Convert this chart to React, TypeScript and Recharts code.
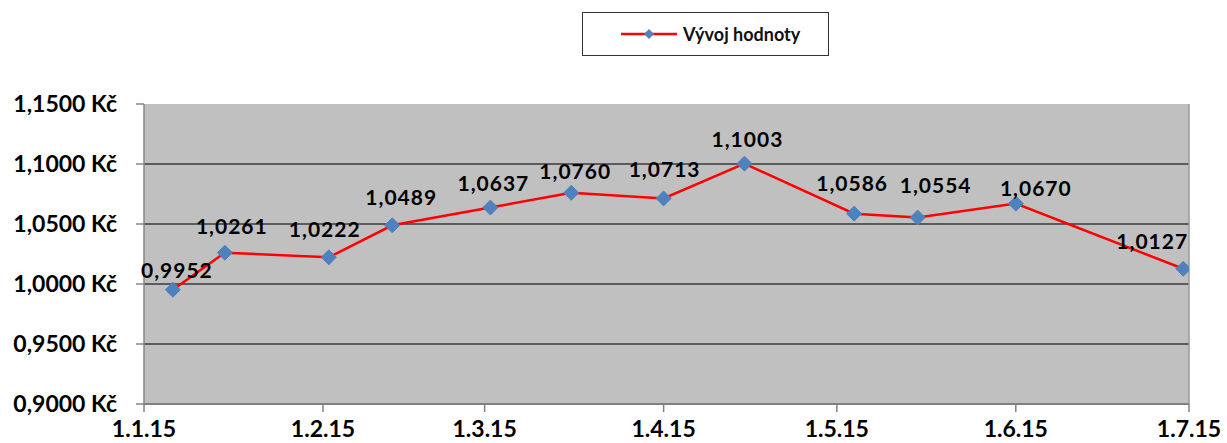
import React from "react";
import {
  LineChart,
  Line,
  XAxis,
  YAxis,
  CartesianGrid,
  ReferenceLine,
  LabelList,
} from "recharts";

const seriesName = "Vývoj hodnoty";
const dates = [
  "2015-01-06",
  "2015-01-15",
  "2015-02-02",
  "2015-02-13",
  "2015-03-02",
  "2015-03-16",
  "2015-04-01",
  "2015-04-15",
  "2015-05-04",
  "2015-05-15",
  "2015-06-01",
  "2015-06-30",
];
const values = [
  0.9952, 1.0261, 1.0222, 1.0489, 1.0637, 1.076, 1.0713, 1.1003, 1.0586,
  1.0554, 1.067, 1.0127,
];
const xTickDates = [
  "2015-01-01",
  "2015-02-01",
  "2015-03-01",
  "2015-04-01",
  "2015-05-01",
  "2015-06-01",
  "2015-07-01",
];
const xTickLabels = ["1.1.15", "1.2.15", "1.3.15", "1.4.15", "1.5.15", "1.6.15", "1.7.15"];
const yTicks = [0.9, 0.95, 1.0, 1.05, 1.1, 1.15];
const gridValues = [0.95, 1.0, 1.05, 1.1];

// per-label placement nudges (pixels), as positioned in the reference
const labelDx = [4, 7, -4, 9, 3, 4, 1, 3, -2, 18, 20, -31];
const labelDy = [-12, -19, -20, -20, -17, -14, -21, -17, -23, -25, -8, -20];

const toTs = (d: string) => Date.parse(d + "T00:00:00Z");
const data = dates.map((d, i) => ({ t: toTs(d), v: values[i] }));
const xTicks = xTickDates.map(toTs);
const xDomain = [xTicks[0], xTicks[xTicks.length - 1]];

const fmt4 = (v: number) => v.toFixed(4).replace(".", ",");

const FONT = "Lato, 'Open Sans', sans-serif";
const BLUE = "#4F81BD";
const RED = "#FF0000";

const Diamond = (props: any) => {
  const { cx, cy, index } = props;
  if (cx == null || cy == null) return null;
  const r = 7.5;
  return (
    <polygon
      key={`d-${index}`}
      points={`${cx},${cy - r} ${cx + r},${cy} ${cx},${cy + r} ${cx - r},${cy}`}
      fill={BLUE}
      stroke={BLUE}
    />
  );
};

const DataLabel = (props: any) => {
  const { x, y, value, index } = props;
  return (
    <text
      x={x + labelDx[index]}
      y={y + labelDy[index]}
      textAnchor="middle"
      fill="#000"
      fontFamily={FONT}
      fontWeight={700}
      fontSize={21}
      letterSpacing={1}
    >
      {fmt4(value)}
    </text>
  );
};

export default function App() {
  const xLabelFor = (t: number) => {
    const i = xTicks.indexOf(t);
    return i >= 0 ? xTickLabels[i] : "";
  };
  return (
    <div
      style={{
        position: "absolute",
        left: 0,
        top: 0,
        width: 1227,
        height: 443,
        background: "#fff",
        fontFamily: FONT,
      }}
    >
      <div
        style={{
          position: "absolute",
          left: 582,
          top: 12,
          width: 247,
          height: 44,
          boxSizing: "border-box",
          border: "1.5px solid #333",
          display: "flex",
          alignItems: "center",
        }}
      >
        <svg width={60} height={20} style={{ marginLeft: 36 }}>
          <line x1={2} y1={10} x2={58} y2={10} stroke={RED} strokeWidth={2.5} />
          <polygon points="30,5 35,10 30,15 25,10" fill={BLUE} />
        </svg>
        <span
          style={{
            marginLeft: 4,
            fontSize: 18,
            fontWeight: 700,
            color: "#111",
          }}
        >
          {seriesName}
        </span>
      </div>
      <LineChart
        width={1227}
        height={443}
        data={data}
        margin={{ top: 104, right: 38, bottom: 0, left: 0 }}
        style={{ position: "absolute", left: 0, top: 0 }}
      >
        <CartesianGrid
          fill="#C0C0C0"
          horizontal={false}
          vertical={false}
          stroke="none"
        />
        {gridValues.map((g) => (
          <ReferenceLine
            key={g}
            y={g}
            stroke="#3a3a3a"
            strokeWidth={1.4}
            ifOverflow="extendDomain"
          />
        ))}
        <ReferenceLine x={xDomain[1]} stroke="#9a9a9a" strokeWidth={1.5} />
        <XAxis
          dataKey="t"
          type="number"
          scale="linear"
          domain={xDomain}
          ticks={xTicks}
          tickFormatter={xLabelFor}
          interval={0}
          height={39}
          tickSize={8}
          tickMargin={9}
          axisLine={{ stroke: "#808080", strokeWidth: 2 }}
          tickLine={{ stroke: "#808080", strokeWidth: 1.5 }}
          tick={{ fill: "#000", fontSize: 23, fontWeight: 700, fontFamily: FONT }}
          allowDataOverflow
        />
        <YAxis
          type="number"
          domain={[0.9, 1.15]}
          ticks={yTicks}
          interval={0}
          width={144}
          tickSize={8}
          tickMargin={19}
          tickFormatter={(v: number) => `${fmt4(v)} Kč`}
          axisLine={{ stroke: "#868686", strokeWidth: 1.5 }}
          tickLine={{ stroke: "#868686", strokeWidth: 1.5 }}
          tick={{ fill: "#000", fontSize: 23, fontWeight: 700, fontFamily: FONT }}
          allowDataOverflow
        />
        <Line
          type="linear"
          dataKey="v"
          name={seriesName}
          stroke={RED}
          strokeWidth={2.5}
          dot={Diamond}
          activeDot={false}
          isAnimationActive={false}
        >
          <LabelList dataKey="v" content={DataLabel} />
        </Line>
      </LineChart>
    </div>
  );
}
